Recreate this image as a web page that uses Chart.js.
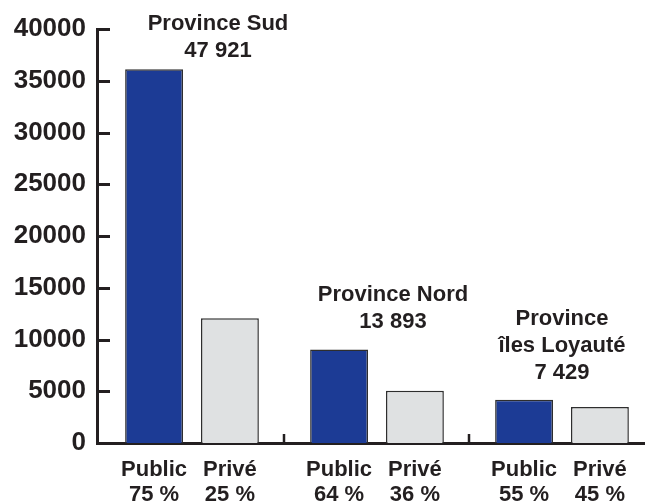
<!DOCTYPE html>
<html>
<head>
<meta charset="utf-8">
<script src="https://cdn.jsdelivr.net/npm/chart.js"></script>
<style>
  body { margin: 0; background: #fff; }
</style>
</head>
<body>
<canvas id="chart" width="645" height="503"></canvas>
<script>
// Données
const provinces = [["Province Sud"], ["Province Nord"], ["Province", "îles Loyauté"]];
const totaux = ["47 921", "13 893", "7 429"];
const effectifsPublic = [36100, 9030, 4170];
const effectifsPrive = [12050, 5050, 3470];
const partPublic = ["75 %", "64 %", "55 %"];
const partPrive = ["25 %", "36 %", "45 %"];
const yMax = 40000;
const yPas = 5000;

const texte = "#231f20";
const police = "'Liberation Sans', Arial, sans-serif";

// décalages des titres de province (px)
const titreDx = [26, 16, 0];
const titreEcart = [18, 28, 27];

const annotations = {
    id: "annotations",
    afterDraw(chart) {
        const ctx = chart.ctx;
        const area = chart.chartArea;
        const x = chart.scales.x;
        const y = chart.scales.y;
        const metaPub = chart.getDatasetMeta(0);
        const metaPriv = chart.getDatasetMeta(1);

        ctx.save();
        ctx.strokeStyle = texte;
        ctx.lineWidth = 3;

        // traits de l'axe Y tournés vers l'intérieur
        y.ticks.forEach(t => {
            const py = Math.round(y.getPixelForValue(t.value)) + 0.5;
            ctx.beginPath();
            ctx.moveTo(area.left, py);
            ctx.lineTo(area.left + 13, py);
            ctx.stroke();
        });

        // séparateurs entre provinces
        ctx.lineWidth = 2.5;
        x.ticks.forEach(t => {
            const px = Math.round(x.getPixelForValue(t.value));
            ctx.beginPath();
            ctx.moveTo(px, area.bottom);
            ctx.lineTo(px, area.bottom - 9);
            ctx.stroke();
        });

        ctx.fillStyle = texte;
        ctx.textAlign = "center";
        ctx.textBaseline = "middle";
        ctx.font = "bold 22px " + police;

        // libellés sous les barres
        metaPub.data.forEach((bar, i) => {
            ctx.fillText("Public", bar.x, area.bottom + 27);
            ctx.fillText(partPublic[i], bar.x, area.bottom + 52);
        });
        metaPriv.data.forEach((bar, i) => {
            ctx.fillText("Privé", bar.x, area.bottom + 27);
            ctx.fillText(partPrive[i], bar.x, area.bottom + 52);
        });

        // titres des provinces au-dessus des barres
        provinces.forEach((nom, i) => {
            const lignes = nom.concat([totaux[i]]);
            const cx = x.getPixelForValue(i + 1) + titreDx[i];
            const haut = Math.min(metaPub.data[i].y, metaPriv.data[i].y);
            const derniere = haut - titreEcart[i];
            lignes.forEach((l, j) => {
                ctx.fillText(l, cx, derniere - (lignes.length - 1 - j) * 27);
            });
        });
        ctx.restore();
    }
};

new Chart(document.getElementById("chart"), {
    type: "bar",
    data: {
        datasets: [
            {
                label: "Public",
                data: effectifsPublic.map((v, i) => ({ x: i + 1, y: v })),
                backgroundColor: "#1c3b95",
                borderColor: "#2e2e2e",
                borderWidth: 1.5
            },
            {
                label: "Privé",
                data: effectifsPrive.map((v, i) => ({ x: i + 1, y: v })),
                backgroundColor: "#dfe1e2",
                borderColor: "#2e2e2e",
                borderWidth: 1.5
            }
        ]
    },
    options: {
        responsive: false,
        animation: false,
        categoryPercentage: 0.82,
        barPercentage: 0.763,
        layout: { padding: { top: 29, left: 0, right: 0, bottom: 0 } },
        plugins: {
            legend: { display: false },
            tooltip: { enabled: false }
        },
        scales: {
            x: {
                type: "linear",
                offset: false,
                min: 0.4865,
                max: 3.4487,
                z: 1,
                grid: { display: false, drawTicks: false, offset: false },
                border: { display: true, color: texte, width: 3 },
                ticks: { display: false },
                afterBuildTicks: s => { s.ticks = [{ value: 1.5 }, { value: 2.5 }]; },
                afterFit: s => { s.height = 60; }
            },
            y: {
                min: 0,
                max: yMax,
                grid: { display: false, drawTicks: false },
                border: { display: true, color: texte, width: 3 },
                ticks: {
                    stepSize: yPas,
                    padding: 11,
                    color: texte,
                    font: { family: police, size: 26, weight: "bold" },
                    callback: v => String(v)
                },
                afterFit: s => { s.width = 97; }
            }
        }
    },
    plugins: [annotations]
});
</script>
</body>
</html>
